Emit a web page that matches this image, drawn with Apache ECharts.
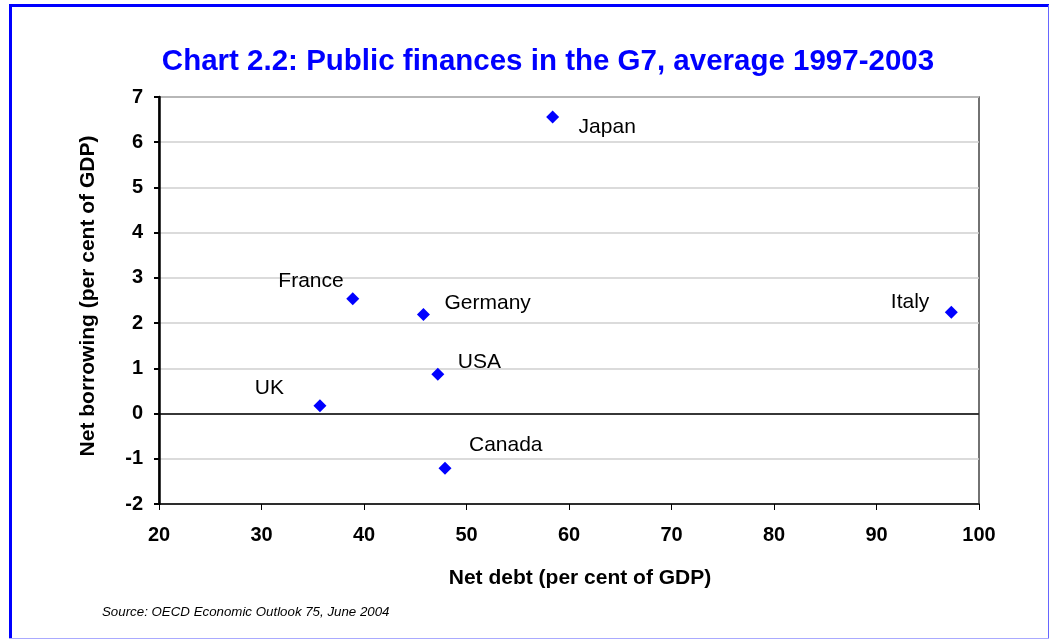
<!DOCTYPE html>
<html>
<head>
<meta charset="utf-8">
<script src="https://cdn.jsdelivr.net/npm/echarts@6/dist/echarts.min.js"></script>
<style>
  html, body { margin: 0; padding: 0; background: #fff; }
  #chart { width: 1049px; height: 639px; }
</style>
</head>
<body>
<div id="chart"></div>
<script>
// G7 averages, 1997-2003
const countries    = ['Japan', 'France', 'Germany', 'Italy', 'USA', 'UK', 'Canada'];
const netDebt      = [58.4, 38.9, 45.8, 97.3, 47.2, 35.7, 47.9];
const netBorrowing = [6.56, 2.54, 2.19, 2.24, 0.87, 0.17, -1.21];

const xTicks = { min: 20, max: 100, interval: 10 };
const yTicks = { min: -2, max: 7, interval: 1 };

const titleText  = 'Chart 2.2: Public finances in the G7, average 1997-2003';
const xName      = 'Net debt (per cent of GDP)';
const yName      = 'Net borrowing (per cent of GDP)';
const sourceText = 'Source: OECD Economic Outlook 75, June 2004';

// where each country name sits relative to its marker
const labelPlacement = {
  Japan:   { align: 'left',  offset: [26, 10] },
  France:  { align: 'right', offset: [-9, -17] },
  Germany: { align: 'left',  offset: [21, -11] },
  Italy:   { align: 'right', offset: [-22, -10] },
  USA:     { align: 'left',  offset: [20, -12] },
  UK:      { align: 'right', offset: [-36, -18] },
  Canada:  { align: 'left',  offset: [24, -23] }
};

const FONT = '"Liberation Sans", Arial, sans-serif';
const BLUE = '#0000ff';

const points = countries.map((c, i) => ({
  name: c,
  value: [netDebt[i], netBorrowing[i]],
  label: {
    show: true,
    position: 'inside',
    formatter: c,
    align: labelPlacement[c].align,
    verticalAlign: 'middle',
    offset: labelPlacement[c].offset,
    color: '#000',
    fontFamily: FONT,
    fontSize: 21
  }
}));

const chart = echarts.init(document.getElementById('chart'), null, { renderer: 'canvas' });

chart.setOption({
  animation: false,
  backgroundColor: '#fff',
  grid: {
    left: 159, right: 70, top: 97, bottom: 135,
    show: true, borderColor: '#444', borderWidth: 1.5, backgroundColor: 'transparent'
  },
  xAxis: {
    type: 'value',
    min: xTicks.min, max: xTicks.max, interval: xTicks.interval,
    axisLine: { show: true, onZero: false, lineStyle: { color: '#000', width: 1.5 } },
    axisTick: { show: true, inside: false, length: 6, lineStyle: { color: '#000', width: 1 } },
    axisLabel: { color: '#000', fontFamily: FONT, fontWeight: 'bold', fontSize: 20, margin: 21 },
    splitLine: { show: false }
  },
  yAxis: {
    type: 'value',
    min: yTicks.min, max: yTicks.max, interval: yTicks.interval,
    axisLine: { show: true, onZero: false, lineStyle: { color: '#000', width: 2.5 } },
    axisTick: { show: true, inside: false, length: 5, lineStyle: { color: '#000', width: 2 } },
    axisLabel: { color: '#000', fontFamily: FONT, fontWeight: 'bold', fontSize: 20, margin: 16 },
    splitLine: { show: true, lineStyle: { color: '#cfcfcf', width: 1.5 } }
  },
  series: [{
    type: 'scatter',
    symbol: 'diamond',
    symbolSize: 13,
    itemStyle: { color: BLUE, opacity: 1 },
    data: points,
    markLine: {
      silent: true,
      symbol: 'none',
      label: { show: false },
      lineStyle: { color: '#000', width: 1.5, type: 'solid' },
      data: [{ yAxis: 0 }]
    }
  }],
  graphic: [
    // outer frame
    { type: 'line', shape: { x1: 10.5, y1: 5.5, x2: 10.5, y2: 639 }, style: { stroke: BLUE, lineWidth: 3 } },
    { type: 'line', shape: { x1: 9, y1: 5.5, x2: 1049, y2: 5.5 }, style: { stroke: BLUE, lineWidth: 3 } },
    { type: 'line', shape: { x1: 1048.5, y1: 5, x2: 1048.5, y2: 639 }, style: { stroke: '#6666ff', lineWidth: 1 } },
    { type: 'line', shape: { x1: 9, y1: 638.5, x2: 1049, y2: 638.5 }, style: { stroke: '#aaaaff', lineWidth: 1 } },
    {
      type: 'text', x: 548, y: 62,
      style: { text: titleText, fill: BLUE, font: 'bold 29.5px ' + FONT, textAlign: 'center', textVerticalAlign: 'middle' }
    },
    {
      type: 'text', x: 580, y: 578,
      style: { text: xName, fill: '#000', font: 'bold 21px ' + FONT, textAlign: 'center', textVerticalAlign: 'middle' }
    },
    {
      type: 'text', x: 88, y: 296, rotation: Math.PI / 2,
      style: { text: yName, fill: '#000', font: 'bold 21px ' + FONT, textAlign: 'center', textVerticalAlign: 'middle' }
    },
    {
      type: 'text', x: 102, y: 612,
      style: { text: sourceText, fill: '#000', font: 'italic 13.3px ' + FONT, textAlign: 'left', textVerticalAlign: 'middle' }
    }
  ]
});
</script>
</body>
</html>
